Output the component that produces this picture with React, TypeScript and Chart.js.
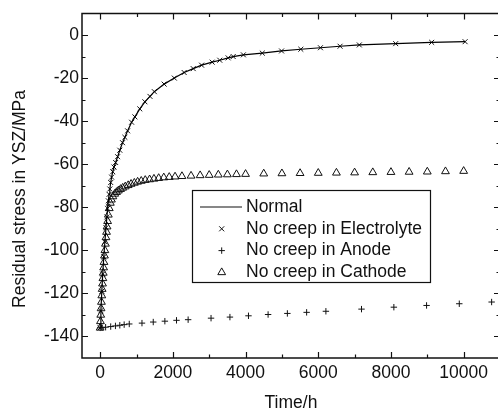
import React, { useEffect, useRef } from 'react';
import { Chart, registerables } from 'chart.js';

Chart.register(...registerables);

// ---------- data ----------
const seriesLabels = ['Normal', 'No creep in Electrolyte', 'No creep in Anode', 'No creep in Cathode'];
const xTitle = 'Time/h';
const yTitle = 'Residual stress in YSZ/MPa';

const xTicks = [0, 2000, 4000, 6000, 8000, 10000];
const xMinorTicks = [1000, 3000, 5000, 7000, 9000];
const yTicks = [-140, -120, -100, -80, -60, -40, -20, 0];
const yMinorTicks = [-130, -110, -90, -70, -50, -30, -10];
const xRange = [-500, 11000];
const yRange = [-150, 10];

// No creep in Electrolyte (x markers)
const electrolyteTime = [0, 20, 45, 70, 100, 130, 160, 185, 205, 225, 245, 265, 290, 315, 345, 380, 425, 480, 540, 615, 680, 755, 865, 955, 1090, 1230, 1370, 1490, 1760, 2040, 2310, 2560, 2790, 3080, 3290, 3520, 3660, 3940, 4460, 4990, 5520, 6060, 6600, 7130, 8130, 9120, 10040];
const electrolyteStress = [-136, -128, -119, -111, -103, -96, -89.5, -84.5, -80.5, -77, -74, -71.5, -68.5, -66, -63.5, -61.3, -59.2, -56.5, -53.5, -50, -47.5, -44.5, -40.5, -38, -34.3, -31, -28.5, -26.3, -22.8, -20, -17.4, -15.6, -14, -12.6, -11.7, -10.6, -10, -9.2, -8.4, -7.4, -6.6, -5.9, -5.2, -4.6, -4.0, -3.4, -3.1];

// Normal (solid line) - coincides with the electrolyte curve in the reference
const normalTime = electrolyteTime;
const normalStress = electrolyteStress;

// No creep in Anode (+ markers)
const anodeTime = [0, 50, 150, 290, 420, 540, 660, 800, 1150, 1460, 1780, 2100, 2420, 3050, 3570, 4080, 4620, 5150, 5680, 6210, 7190, 8080, 8980, 9880, 10770];
const anodeStress = [-136, -135.9, -135.7, -135.4, -135.1, -134.8, -134.5, -134.2, -133.8, -133.3, -132.9, -132.5, -132.2, -131.5, -131.0, -130.4, -129.8, -129.3, -128.8, -128.3, -127.3, -126.4, -125.6, -124.8, -124.0];

// No creep in Cathode (triangle markers)
const cathodeTime = [0, 8, 16, 25, 35, 45, 55, 65, 75, 85, 95, 105, 118, 130, 145, 160, 175, 190, 205, 225, 250, 280, 310, 350, 400, 450, 500, 560, 620, 690, 770, 850, 940, 1030, 1130, 1240, 1360, 1480, 1610, 1750, 1900, 2060, 2250, 2500, 2750, 3000, 3250, 3500, 3750, 4000, 4500, 5000, 5500, 6000, 6500, 7000, 7500, 8000, 8500, 9000, 9500, 10000];
const cathodeStress = [-136, -133, -130, -127, -124, -121, -118, -115.5, -113, -110.5, -108, -105.5, -102.5, -100, -97, -94, -91.5, -89, -86.5, -83.5, -80.5, -78, -76.5, -75, -73.8, -73, -72.3, -71.6, -71, -70.4, -69.8, -69.2, -68.7, -68.2, -67.8, -67.4, -67.1, -66.8, -66.5, -66.2, -66, -65.8, -65.6, -65.4, -65.2, -65.05, -64.9, -64.8, -64.7, -64.6, -64.4, -64.3, -64.2, -64.1, -64.0, -63.9, -63.8, -63.7, -63.6, -63.5, -63.35, -63.2];

// ---------- styling ----------
const FAMILY = '"Liberation Sans", Arial, Helvetica, sans-serif';
const FONT_SIZE = 17.5;
const INK = '#111';

const pts = (xs: number[], ys: number[]) => xs.map((x, i) => ({ x, y: ys[i] }));

const framePlugin = {
  id: 'originFrame',
  afterDraw(chart: any) {
    const { ctx, chartArea: a, scales } = chart;
    const x = scales.x;
    const y = scales.y;
    ctx.save();
    ctx.strokeStyle = INK;
    ctx.fillStyle = INK;

    // inward tick marks on all four sides
    ctx.lineWidth = 1.2;
    const xt = (vals: number[], len: number) => {
      vals.forEach((v) => {
        const px = Math.round(x.getPixelForValue(v)) + 0.5;
        ctx.beginPath();
        ctx.moveTo(px, a.bottom);
        ctx.lineTo(px, a.bottom - len);
        ctx.moveTo(px, a.top);
        ctx.lineTo(px, a.top + len);
        ctx.stroke();
      });
    };
    const yt = (vals: number[], len: number) => {
      vals.forEach((v) => {
        const py = Math.round(y.getPixelForValue(v)) + 0.5;
        ctx.beginPath();
        ctx.moveTo(a.left, py);
        ctx.lineTo(a.left + len, py);
        ctx.moveTo(a.right, py);
        ctx.lineTo(a.right - len, py);
        ctx.stroke();
      });
    };
    xt(xTicks, 6);
    xt(xMinorTicks, 3.5);
    yt(yTicks, 6);
    yt(yMinorTicks, 3.5);

    // frame
    ctx.lineWidth = 1.5;
    ctx.strokeRect(a.left, a.top, a.right - a.left, a.bottom - a.top);

    // legend box
    const bx = 192.5, by = 190.5, bw = 238, bh = 92;
    ctx.fillStyle = '#fff';
    ctx.fillRect(bx, by, bw, bh);
    ctx.lineWidth = 1.2;
    ctx.strokeStyle = INK;
    ctx.strokeRect(bx, by, bw, bh);
    ctx.fillStyle = INK;
    ctx.font = `${FONT_SIZE}px ${FAMILY}`;
    ctx.textBaseline = 'middle';
    ctx.textAlign = 'left';
    const sx = 221.7;
    seriesLabels.forEach((label, i) => {
      const ry = by + 16.5 + i * 21.8;
      ctx.lineWidth = 1;
      ctx.beginPath();
      if (i === 0) {
        ctx.lineWidth = 1.2;
        ctx.moveTo(200, ry);
        ctx.lineTo(242, ry);
      } else if (i === 1) {
        const r = 2.5;
        ctx.moveTo(sx - r, ry - r);
        ctx.lineTo(sx + r, ry + r);
        ctx.moveTo(sx - r, ry + r);
        ctx.lineTo(sx + r, ry - r);
      } else if (i === 2) {
        const r = 3.2;
        ctx.moveTo(sx - r, ry);
        ctx.lineTo(sx + r, ry);
        ctx.moveTo(sx, ry - r);
        ctx.lineTo(sx, ry + r);
      } else {
        const r = 4.5;
        ctx.moveTo(sx, ry - r);
        ctx.lineTo(sx + r * 0.866, ry + r * 0.5);
        ctx.lineTo(sx - r * 0.866, ry + r * 0.5);
        ctx.closePath();
      }
      ctx.stroke();
      ctx.fillText(label, 246, ry);
    });

    // axis titles
    ctx.textAlign = 'center';
    ctx.textBaseline = 'alphabetic';
    ctx.fillText(xTitle, (a.left + a.right) / 2, 408);
    ctx.save();
    ctx.translate(25, 199);
    ctx.rotate(-Math.PI / 2);
    ctx.fillText(yTitle, 0, 0);
    ctx.restore();

    ctx.restore();
  },
};

export default function App() {
  const ref = useRef<HTMLCanvasElement | null>(null);

  useEffect(() => {
    if (!ref.current) return;
    const tickFont = { family: FAMILY, size: FONT_SIZE };
    const chart = new Chart(ref.current, {
      type: 'scatter',
      data: {
        datasets: [
          {
            label: seriesLabels[0],
            data: pts(normalTime, normalStress),
            showLine: true,
            borderColor: '#000',
            borderWidth: 1.2,
            pointRadius: 0,
            tension: 0,
          },
          {
            label: seriesLabels[1],
            data: pts(electrolyteTime, electrolyteStress),
            showLine: false,
            pointStyle: 'crossRot',
            pointRadius: 3.5,
            borderColor: INK,
            backgroundColor: 'transparent',
            borderWidth: 1,
          },
          {
            label: seriesLabels[2],
            data: pts(anodeTime, anodeStress),
            showLine: false,
            pointStyle: 'cross',
            pointRadius: 3.2,
            borderColor: INK,
            backgroundColor: 'transparent',
            borderWidth: 1,
          },
          {
            label: seriesLabels[3],
            data: pts(cathodeTime, cathodeStress),
            showLine: false,
            pointStyle: 'triangle',
            pointRadius: 4.5,
            borderColor: INK,
            backgroundColor: 'transparent',
            borderWidth: 1,
          },
        ],
      },
      options: {
        responsive: false,
        animation: false,
        events: [],
        layout: { padding: { left: 0, right: 10, top: 13, bottom: 0 } },
        plugins: { legend: { display: false }, tooltip: { enabled: false } },
        scales: {
          x: {
            type: 'linear',
            min: xRange[0],
            max: xRange[1],
            grid: { display: false, drawTicks: false },
            border: { display: false },
            ticks: { padding: 5, font: tickFont, color: INK, maxRotation: 0, callback: (v: any) => String(v) },
            afterBuildTicks: (s: any) => { s.ticks = xTicks.map((value) => ({ value })); },
            afterFit: (s: any) => { s.height = 52; },
          },
          y: {
            type: 'linear',
            min: yRange[0],
            max: yRange[1],
            grid: { display: false, drawTicks: false },
            border: { display: false },
            ticks: { padding: 3, font: tickFont, color: INK, callback: (v: any) => String(v) },
            afterBuildTicks: (s: any) => { s.ticks = yTicks.map((value) => ({ value })); },
            afterFit: (s: any) => { s.width = 82; },
          },
        },
      },
      plugins: [framePlugin],
    } as any);
    return () => chart.destroy();
  }, []);

  return (
    <div style={{ position: 'fixed', left: 0, top: 0, width: 498, height: 410, overflow: 'hidden', background: '#fff' }}>
      <canvas ref={ref} width={510} height={410} style={{ display: 'block' }} />
    </div>
  );
}
